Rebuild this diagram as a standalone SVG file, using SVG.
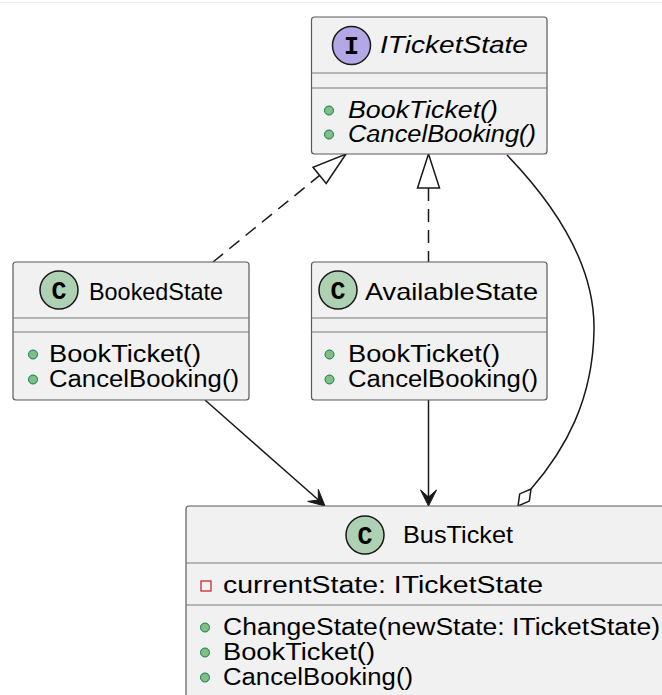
<svg xmlns="http://www.w3.org/2000/svg" width="662" height="695" viewBox="0 0 662 695">
  <style>
    .box { fill: #F1F1F1; stroke: #5b5b5b; stroke-width: 1.2; }
    .div { stroke: #7a7a7a; stroke-width: 1.2; }
    .title { font-family: "Liberation Sans", Arial, sans-serif; font-size: 24px; fill: #000; }
    .member { font-family: "Liberation Sans", Arial, sans-serif; font-size: 23px; fill: #000; }
    .abstract { font-style: italic; }
    .spot-c { fill: #ADD1B2; stroke: #181818; stroke-width: 1.5; }
    .spot-i { fill: #B4A7E5; stroke: #181818; stroke-width: 1.5; }
    .spot-letter { font-family: "Liberation Mono", "DejaVu Sans Mono", monospace; font-weight: bold; font-size: 25px; fill: #000; }
    .pub { fill: #84BE84; stroke: #038048; stroke-width: 1; }
    .priv { fill: none; stroke: #C82930; stroke-width: 1.3; }
    .edge { fill: none; stroke: #181818; stroke-width: 1.5; }
    .dashed { stroke-dasharray: 13 8; }
    .hollow { fill: #FFFFFF; stroke: #181818; stroke-width: 1.5; }
    .head { fill: #181818; stroke: #181818; stroke-width: 1; }
  </style>

  <rect width="662" height="695" fill="#FFFFFF"/>
  <line x1="0" y1="2.5" x2="662" y2="2.5" stroke="#ededed" stroke-width="1"/>

  <!-- connectors -->
  <g id="connectors">
    <!-- BookedState realizes ITicketState -->
    <line class="edge dashed" x1="213" y1="262" x2="319.6" y2="175.4"/>
    <polygon class="hollow" points="346,154 326.2,183.5 313,167.3"/>
    <!-- AvailableState realizes ITicketState -->
    <line class="edge dashed" x1="428.5" y1="188" x2="428.5" y2="262"/>
    <polygon class="hollow" points="428.5,154 439.5,188 417.5,188"/>
    <!-- BookedState -> BusTicket -->
    <line class="edge" x1="205" y1="400" x2="318.5" y2="500"/>
    <polygon class="head" points="325,506 307.7,501.4 318.3,500 318.3,489.4"/>
    <!-- AvailableState -> BusTicket -->
    <line class="edge" x1="428.5" y1="400" x2="428.5" y2="497"/>
    <polygon class="head" points="428.5,506 420.5,490 428.5,497 436.5,490"/>
    <!-- BusTicket aggregates ITicketState -->
    <path class="edge" d="M507,155 C560,210 595,270 594,330 C593,400 565,450 531,489"/>
    <polygon class="hollow" points="518,506 519.7,493.9 531,489 529.3,501.1"/>
  </g>

  <!-- interface ITicketState -->
  <g id="ITicketState">
    <rect class="box" x="311.5" y="17" width="235.5" height="137" rx="3"/>
    <circle class="spot-i" cx="351.5" cy="45.5" r="19"/>
    <text class="spot-letter" x="351.5" y="54" text-anchor="middle">I</text>
    <text class="title abstract" x="380" y="53" textLength="148" lengthAdjust="spacingAndGlyphs">ITicketState</text>
    <line class="div" x1="311.5" y1="73" x2="547" y2="73"/>
    <line class="div" x1="311.5" y1="88" x2="547" y2="88"/>
    <circle class="pub" cx="329" cy="110.5" r="4.5"/>
    <text class="member abstract" x="348" y="118" textLength="150" lengthAdjust="spacingAndGlyphs">BookTicket()</text>
    <circle class="pub" cx="329" cy="134.5" r="4.5"/>
    <text class="member abstract" x="348" y="142" textLength="188" lengthAdjust="spacingAndGlyphs">CancelBooking()</text>
  </g>

  <!-- class BookedState -->
  <g id="BookedState">
    <rect class="box" x="13" y="262" width="236" height="138" rx="3"/>
    <circle class="spot-c" cx="59" cy="290" r="19"/>
    <text class="spot-letter" x="59" y="298.5" text-anchor="middle">C</text>
    <text class="title" x="89" y="300" textLength="134" lengthAdjust="spacingAndGlyphs">BookedState</text>
    <line class="div" x1="13" y1="318" x2="249" y2="318"/>
    <line class="div" x1="13" y1="332" x2="249" y2="332"/>
    <circle class="pub" cx="33" cy="354.5" r="4.5"/>
    <text class="member" x="49" y="362" textLength="152" lengthAdjust="spacingAndGlyphs">BookTicket()</text>
    <circle class="pub" cx="33" cy="379.5" r="4.5"/>
    <text class="member" x="49" y="387" textLength="190" lengthAdjust="spacingAndGlyphs">CancelBooking()</text>
  </g>

  <!-- class AvailableState -->
  <g id="AvailableState">
    <rect class="box" x="311.5" y="262" width="235.5" height="138" rx="3"/>
    <circle class="spot-c" cx="338" cy="290" r="19"/>
    <text class="spot-letter" x="338" y="298.5" text-anchor="middle">C</text>
    <text class="title" x="365" y="300" textLength="173" lengthAdjust="spacingAndGlyphs">AvailableState</text>
    <line class="div" x1="311.5" y1="318" x2="547" y2="318"/>
    <line class="div" x1="311.5" y1="332" x2="547" y2="332"/>
    <circle class="pub" cx="329.5" cy="354.5" r="4.5"/>
    <text class="member" x="348" y="362" textLength="152" lengthAdjust="spacingAndGlyphs">BookTicket()</text>
    <circle class="pub" cx="329.5" cy="379.5" r="4.5"/>
    <text class="member" x="348" y="387" textLength="190" lengthAdjust="spacingAndGlyphs">CancelBooking()</text>
  </g>

  <!-- class BusTicket -->
  <g id="BusTicket">
    <rect class="box" x="186" y="506" width="500" height="220" rx="3"/>
    <circle class="spot-c" cx="365" cy="535" r="19"/>
    <text class="spot-letter" x="365" y="543.5" text-anchor="middle">C</text>
    <text class="title" x="403" y="543" textLength="110" lengthAdjust="spacingAndGlyphs">BusTicket</text>
    <line class="div" x1="186" y1="563" x2="662" y2="563"/>
    <rect class="priv" x="201" y="581" width="10" height="10"/>
    <text class="member" x="223" y="593" textLength="320" lengthAdjust="spacingAndGlyphs">currentState: ITicketState</text>
    <line class="div" x1="186" y1="605" x2="662" y2="605"/>
    <circle class="pub" cx="205" cy="627.5" r="4.5"/>
    <text class="member" x="223" y="635" textLength="437" lengthAdjust="spacingAndGlyphs">ChangeState(newState: ITicketState)</text>
    <circle class="pub" cx="205" cy="652.5" r="4.5"/>
    <text class="member" x="223" y="660" textLength="152" lengthAdjust="spacingAndGlyphs">BookTicket()</text>
    <circle class="pub" cx="205" cy="677.5" r="4.5"/>
    <text class="member" x="223" y="685" textLength="190" lengthAdjust="spacingAndGlyphs">CancelBooking()</text>
  </g>
</svg>
